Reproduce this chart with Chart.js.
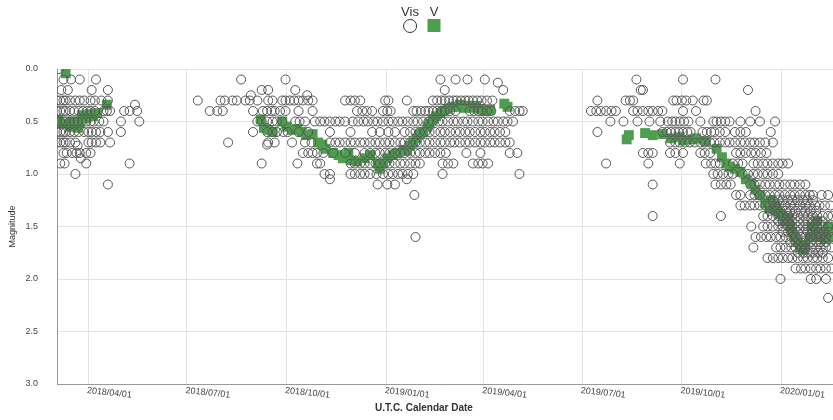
<!DOCTYPE html>
<html lang="en">
<head>
    <meta charset="UTF-8">
    <title>Light curve</title>
    <script src="https://cdn.jsdelivr.net/npm/chart.js"></script>
    <style>
        body { margin: 0; background: #fff; font-family: "Liberation Sans", Arial, sans-serif; }
        .wrap { position: relative; width: 833px; height: 420px; overflow: hidden; }
        .leg { position: absolute; top: 5px; transform: translateX(-50%); text-align: center; color: #333; font-size: 13px; line-height: 13px; }
        .leg .sym { margin: 1px auto 0; box-sizing: border-box; }
        .leg .circle { width: 14px; height: 14px; border: 1.5px solid #333; border-radius: 50%; }
        .leg .square { width: 13px; height: 13px; background: rgb(78,158,80); }
        canvas { position: absolute; left: 0; top: 0; }
    </style>
</head>
<body>
<div class="wrap">
    <canvas id="lc" width="833" height="420"></canvas>
    <div class="leg" style="left:410px">Vis<div class="sym circle"></div></div>
    <div class="leg" style="left:434px">V<div class="sym square"></div></div>
</div>

<script>
    // days are counted from 2018-01-01 (day 0)
    const tickDays = [90, 181, 273, 365, 455, 546, 638, 730];
    const tickLabels = ['2018/04/01', '2018/07/01', '2018/10/01', '2019/01/01',
                        '2019/04/01', '2019/07/01', '2019/10/01', '2020/01/01'];

    // visual estimates: [magnitude, [days...]]
    const visSeason1 = [
        [0.0, [63]],
        [0.1, [67, 74, 82, 97]],
        [0.2, [65, 71, 93, 108]],
        [0.3, [61, 64, 67, 69, 73, 78, 82, 86, 92, 96, 102, 108]],
        [0.34, [133]],
        [0.4, [61, 64, 67, 69, 73, 77, 81, 85, 89, 92, 96, 104, 107, 110, 123, 128, 135]],
        [0.5, [61, 64, 67, 69, 73, 77, 80, 84, 88, 92, 95, 100, 104, 120, 137]],
        [0.6, [61, 64, 67, 69, 73, 77, 81, 86, 90, 93, 97, 101, 108, 120]],
        [0.7, [61, 64, 67, 69, 73, 78, 90, 93, 97, 101, 110]],
        [0.73, [80]],
        [0.8, [67, 70, 75, 79, 82, 88, 92]],
        [0.85, [83]],
        [0.9, [64, 68, 88, 128]],
        [1.0, [78]],
        [1.1, [108]]
    ];

    const visSeason2 = [
        [0.1, [231, 272, 415, 429, 440, 456]],
        [0.13, [468]],
        [0.2, [250, 256, 281, 419, 473]],
        [0.25, [240, 292]],
        [0.3, [191, 212, 216, 223, 227, 235, 239, 246, 256, 260, 269, 272, 276, 280, 284, 288, 293, 297,
               327, 332, 336, 341, 364, 367, 384, 408, 412, 416, 419, 423, 427, 430, 434, 438, 441, 445,
               449, 453, 458, 463]],
        [0.4, [202, 209, 214, 242, 251, 255, 259, 262, 267, 272, 284, 297, 338, 343, 347, 352, 362, 366,
               369, 390, 393, 397, 401, 404, 408, 412, 416, 419, 424, 429, 442, 446, 450, 453, 458, 462,
               479, 484, 488, 491]],
        [0.5, [246, 250, 255, 260, 264, 269, 281, 285, 290, 299, 304, 308, 313, 318, 322, 327, 334, 339,
               344, 348, 353, 357, 362, 367, 371, 376, 380, 385, 390, 394, 399, 404, 408, 413, 417, 422,
               427, 431, 436, 440, 445, 450, 454, 459, 464, 468, 473, 477, 482]],
        [0.6, [242, 255, 260, 264, 270, 274, 284, 293, 313, 332, 352, 359, 367, 373, 382, 387, 392, 396,
               401, 405, 410, 415, 419, 424, 429, 433, 438, 442, 447, 452, 456, 461, 465, 470, 475]],
        [0.7, [219, 256, 262, 278, 290, 296, 313, 318, 322, 327, 332, 336, 341, 345, 350, 355, 359, 364,
               368, 373, 378, 382, 387, 392, 396, 401, 405, 410, 415, 419, 424, 428, 433, 438, 442, 447,
               452, 456, 461, 465, 470, 475, 479]],
        [0.72, [255]],
        [0.8, [288, 293, 297, 301, 307, 316, 327, 336, 345, 350, 355, 359, 364, 368, 373, 378, 382, 387,
               392, 396, 401, 405, 410, 415, 420, 439, 452, 479, 486]],
        [0.9, [250, 283, 301, 304, 332, 336, 341, 345, 350, 355, 359, 364, 368, 373, 378, 382, 387, 392,
               396, 417, 422, 427, 445, 450, 454, 459]],
        [1.0, [308, 313, 332, 336, 341, 345, 350, 356, 362, 367, 371, 376, 380, 385, 390, 417, 488]],
        [1.05, [313, 384]],
        [1.1, [357, 366, 373]],
        [1.2, [391]],
        [1.6, [392]]
    ];

    const visSeason3 = [
        [0.1, [596, 639, 669]],
        [0.2, [600, 602, 699]],
        [0.3, [560, 586, 590, 593, 630, 633, 638, 642, 648, 658, 661]],
        [0.4, [554, 559, 563, 568, 573, 577, 593, 597, 602, 607, 611, 616, 620, 639, 651, 706]],
        [0.5, [572, 584, 597, 608, 618, 625, 629, 632, 636, 640, 644, 655, 667, 670, 674, 678, 682, 692,
               701, 710, 724]],
        [0.6, [560, 620, 624, 628, 632, 635, 639, 643, 646, 657, 661, 665, 668, 673, 678, 687, 692, 697, 720]],
        [0.7, [627, 632, 636, 641, 645, 650, 655, 659, 664, 668, 673, 678, 682, 687, 692, 696, 701, 705,
               710, 715, 722]],
        [0.8, [602, 607, 611, 627, 632, 639, 655, 659, 664, 688, 692, 697, 702, 706, 711, 716]],
        [0.9, [568, 607, 636, 660, 665, 669, 673, 685, 690, 694, 704, 708, 713, 717, 722, 727, 731, 736]],
        [1.0, [667, 671, 676, 681, 685, 694, 699, 704, 708, 713, 717, 722, 727]],
        [1.1, [611, 669, 674, 679, 683, 701, 705, 710, 715, 719, 724, 728, 733, 738, 742, 747, 752]],
        [1.2, [688, 692, 701, 705, 710, 715, 719, 724, 728, 733, 738, 742, 747, 752, 756, 759, 767, 773]],
        [1.25, [722, 727, 731, 736, 740, 745, 750, 754, 759]],
        [1.3, [692, 696, 701, 705, 710, 715, 719, 724, 728, 733, 738, 742, 747, 752, 756, 761, 765, 770, 775]],
        [1.35, [719, 724, 729, 734, 738, 743, 748, 752, 757, 762]],
        [1.4, [611, 674, 713, 717, 722, 727, 731, 736, 740, 745, 750, 754, 759, 763, 768, 773, 777]],
        [1.45, [727, 731, 736, 740, 745, 750, 754, 759, 763, 768]],
        [1.5, [702, 713, 717, 722, 727, 731, 736, 740, 745, 750, 754, 759, 763, 768, 773]],
        [1.55, [731, 736, 740, 745, 750, 754, 759, 764, 769, 774]],
        [1.6, [706, 711, 716, 720, 725, 729, 734, 739, 743, 748, 752, 757, 762, 766, 771, 776]],
        [1.65, [738, 743, 748, 752, 757, 762, 766, 771]],
        [1.7, [704, 725, 729, 734, 739, 743, 748, 752, 757, 762, 766, 771, 776]],
        [1.75, [745, 750, 754, 759, 764, 768]],
        [1.8, [717, 722, 727, 731, 736, 740, 745, 750, 754, 759, 763, 768, 773]],
        [1.9, [743, 748, 752, 757, 762, 766, 771, 776]],
        [2.0, [729, 757, 762, 771]],
        [2.18, [773]]
    ];

    // V band photometry: [day, magnitude]
    const vSeason1 = [
        [62, 0.49], [66, 0.52], [69, 0.04], [73, 0.55], [75, 0.5], [80, 0.56], [82, 0.52],
        [84, 0.44], [88, 0.47], [91, 0.43], [94, 0.45], [98, 0.42], [107, 0.34]
    ];
    const vSeason2 = [
        [249, 0.48], [252, 0.56], [256, 0.58], [260, 0.6], [269, 0.5], [273, 0.55], [278, 0.58],
        [283, 0.57], [287, 0.6], [291, 0.63], [297, 0.62], [302, 0.7], [306, 0.72], [309, 0.76],
        [316, 0.8], [321, 0.82], [325, 0.85], [330, 0.8], [333, 0.87], [338, 0.88], [345, 0.85],
        [350, 0.82], [357, 0.9], [359, 0.95], [362, 0.9], [366, 0.85], [371, 0.82], [375, 0.8],
        [381, 0.77], [384, 0.78], [387, 0.73], [390, 0.7], [393, 0.66], [396, 0.62], [399, 0.6],
        [403, 0.55], [405, 0.52], [408, 0.48], [411, 0.45], [415, 0.42], [418, 0.4], [422, 0.38],
        [426, 0.36], [429, 0.36], [433, 0.34], [437, 0.37], [441, 0.35], [444, 0.37], [448, 0.35],
        [452, 0.38], [456, 0.4], [461, 0.39], [474, 0.33], [477, 0.36]
    ];
    const vSeason3 = [
        [587, 0.67], [589, 0.63], [604, 0.61], [611, 0.63], [620, 0.62], [628, 0.66], [636, 0.65],
        [639, 0.68], [648, 0.67], [651, 0.66], [660, 0.69], [670, 0.76], [675, 0.84], [679, 0.9],
        [682, 0.93], [687, 0.95], [692, 0.98], [697, 1.05], [702, 1.09], [706, 1.15], [710, 1.2],
        [715, 1.28], [719, 1.33], [720, 1.25], [724, 1.3], [726, 1.35], [728, 1.38], [731, 1.4],
        [733, 1.45], [736, 1.42], [738, 1.5], [740, 1.55], [742, 1.6], [745, 1.65], [747, 1.7],
        [750, 1.72], [752, 1.68], [756, 1.6], [758, 1.5], [761, 1.55], [763, 1.45], [765, 1.6],
        [768, 1.55], [770, 1.62], [773, 1.5], [775, 1.6], [777, 1.58]
    ];

    function rowsToPoints(rows) {
        const pts = [];
        rows.forEach(([mag, days]) => days.forEach(d => pts.push({ x: d, y: mag })));
        return pts;
    }
    function pairsToPoints(pairs) {
        return pairs.map(([d, mag]) => ({ x: d, y: mag }));
    }

    const FONT = '"Liberation Sans", Arial, sans-serif';

    // x tick labels are slanted and start at the tick, so they are drawn here
    const xLabels = {
        id: 'xLabels',
        afterDraw(chart) {
            const { ctx, chartArea } = chart;
            const xs = chart.scales.x;
            ctx.save();
            ctx.fillStyle = '#444';
            ctx.font = '9px ' + FONT;
            ctx.textBaseline = 'top';
            ctx.textAlign = 'left';
            tickDays.forEach((d, i) => {
                ctx.save();
                ctx.translate(xs.getPixelForValue(d) - 1, chartArea.bottom + 2);
                ctx.rotate(6 * Math.PI / 180);
                ctx.fillText(tickLabels[i], 0, 0);
                ctx.restore();
            });
            ctx.font = 'bold 10px ' + FONT;
            ctx.fillStyle = '#333';
            ctx.textAlign = 'center';
            ctx.textBaseline = 'middle';
            ctx.fillText('U.T.C. Calendar Date', 424, 408);
            ctx.restore();
        }
    };

    new Chart(document.getElementById('lc'), {
        type: 'scatter',
        data: {
            datasets: [
                {
                    label: 'Vis',
                    data: [...rowsToPoints(visSeason1), ...rowsToPoints(visSeason2), ...rowsToPoints(visSeason3)],
                    pointStyle: 'circle',
                    pointRadius: 4.5,
                    borderWidth: 1,
                    borderColor: '#555',
                    backgroundColor: 'rgba(0,0,0,0)'
                },
                {
                    label: 'V',
                    data: [...pairsToPoints(vSeason1), ...pairsToPoints(vSeason2), ...pairsToPoints(vSeason3)],
                    pointStyle: 'rect',
                    pointRadius: 7,
                    borderWidth: 0,
                    borderColor: 'rgb(78,158,80)',
                    backgroundColor: 'rgb(78,158,80)'
                }
            ]
        },
        options: {
            responsive: false,
            animation: false,
            layout: { autoPadding: false, padding: { top: 69, left: 0, right: 0, bottom: 0 } },
            plugins: {
                legend: { display: false },
                tooltip: { enabled: false }
            },
            scales: {
                x: {
                    type: 'linear',
                    min: 61,
                    max: 777.5,
                    afterBuildTicks: s => { s.ticks = tickDays.map(v => ({ value: v })); },
                    afterFit: s => { s.height = 36; },
                    ticks: { display: false },
                    grid: { color: '#e4e4e4', drawTicks: false },
                    border: { color: '#9a9a9a' }
                },
                y: {
                    min: 0,
                    max: 3,
                    reverse: true,
                    afterFit: s => { s.width = 57; },
                    ticks: {
                        stepSize: 0.5,
                        padding: 19,
                        color: '#444',
                        font: { family: FONT, size: 9 },
                        callback: v => v.toFixed(1)
                    },
                    grid: { color: '#e4e4e4', drawTicks: false },
                    border: { color: '#9a9a9a' },
                    title: {
                        display: true,
                        text: 'Magnitude',
                        color: '#333',
                        font: { family: FONT, size: 9 },
                        padding: { top: 7, bottom: 0 }
                    }
                }
            }
        },
        plugins: [xLabels]
    });
</script>
</body>
</html>
